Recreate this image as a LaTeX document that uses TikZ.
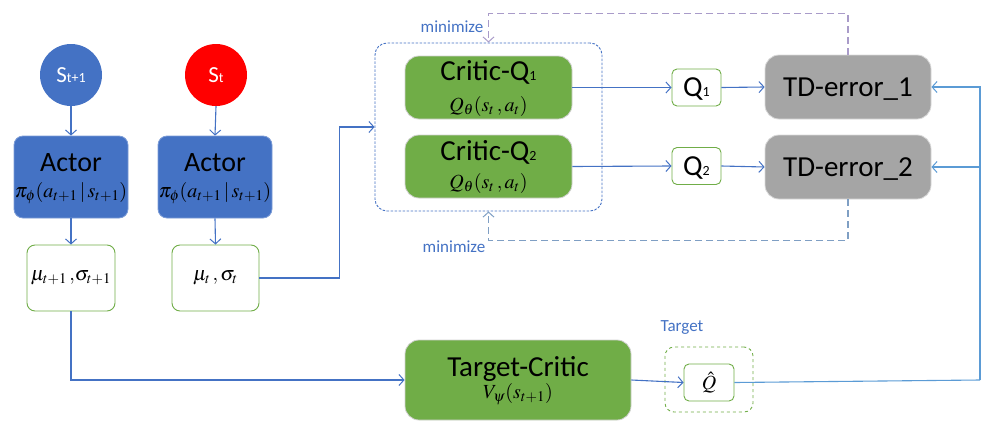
\documentclass[tikz,border=0pt]{standalone}
\usepackage{mathptmx}
\usepackage{fontspec}
\setmainfont{Carlito}
\usetikzlibrary{arrows.meta,calc}

\definecolor{cblue}{HTML}{4472C4}
\definecolor{lblue}{HTML}{5B9BD5}
\definecolor{cgreen}{HTML}{70AD47}
\definecolor{cgray}{HTML}{A5A5A5}
\definecolor{cred}{HTML}{FF0000}
\definecolor{dpurple}{HTML}{A99BC9}
\definecolor{dsteel}{HTML}{7F9FC4}

\newcommand{\bigtxt}{\fontsize{29}{32}\selectfont}
\newcommand{\acttxt}{\fontsize{28}{30}\selectfont}
\newcommand{\smtxt}{\fontsize{14}{16}\selectfont}
\newcommand{\mtxt}{\fontsize{20}{22}\selectfont}
\newcommand{\lbtxt}{\fontsize{17}{19}\selectfont}

\begin{document}
\begin{tikzpicture}[x=1pt,y=-1pt,
  statenode/.style={circle,minimum size=62pt,inner sep=0pt,text=white},
  actorbox/.style={rectangle,rounded corners=9pt,fill=cblue,draw=cblue!70!white,
    line width=0.8pt,minimum width=114pt,minimum height=82pt,inner sep=0pt},
  critbox/.style={rectangle,rounded corners=14pt,fill=cgreen,draw=black!18,
    line width=0.8pt,minimum width=167pt,minimum height=63pt,inner sep=0pt},
  tdbox/.style={rectangle,rounded corners=14pt,fill=cgray,draw=black!15,
    line width=0.8pt,minimum width=166pt,minimum height=64pt,inner sep=0pt,
    font=\bigtxt,text height=18.7pt,text depth=0pt},
  outbox/.style={rectangle,rounded corners=8pt,fill=white,draw=cgreen,
    line width=0.9pt,inner sep=0pt},
  title/.style={anchor=base,inner sep=0pt},
  formula/.style={inner sep=0pt,font=\mtxt},
  tip/.style={-{Straight Barb[length=5pt,width=11pt,line width=1pt]}},
  conn/.style={draw=cblue,line width=1.1pt,tip},
  lconn/.style={draw=lblue,line width=1.1pt},
  hint/.style={text=cblue,inner sep=0pt}
]
\useasboundingbox (0,0) rectangle (981,423);

% states and actors
\node[statenode,fill=cblue] (s1) at (71,75) {\fontsize{23}{25}\selectfont S\smtxt t+1};
\node[statenode,fill=cred] (s2) at (216,75) {\fontsize{23}{25}\selectfont S\smtxt t};

\node[actorbox] (a1) at (71,177) {};
\node[title,font=\acttxt] (a1t) at (71,171) {Actor};
\node[formula] (a1f) at (71,193) {$\pi_{\phi}(a_{t+1}\,|\,s_{t+1})$};
\node[actorbox] (a2) at (215,177) {};
\node[title,font=\acttxt] (a2t) at (215,171) {Actor};
\node[formula] (a2f) at (215,193) {$\pi_{\phi}(a_{t+1}\,|\,s_{t+1})$};

\node[outbox,minimum width=88pt,minimum height=66pt,font=\mtxt] (m1) at (71,278)
  {$\mu_{t+1}\,{,}\sigma_{t+1}$};
\node[outbox,minimum width=87pt,minimum height=66pt,font=\mtxt] (m2) at (215.5,278)
  {$\mu_{t}\,{,}\,\sigma_{t}$};

% critics
\node[draw=cblue,dash pattern=on 2.5pt off 1.5pt,line width=0.9pt,rounded corners=12pt,
  minimum width=227pt,minimum height=168pt,inner sep=0pt] (cb) at (488.5,127) {};
\node[critbox] (c1) at (488.5,87.5) {};
\node[title] (c1t) at (488.5,80) {\bigtxt Critic-Q\smtxt 1};
\node[formula] (c1f) at (488.5,106) {$Q_{\theta}(s_t\,,a_t)$};
\node[critbox] (c2) at (488.5,166.5) {};
\node[title] (c2t) at (488.5,160) {\bigtxt Critic-Q\smtxt 2};
\node[formula] (c2f) at (488.5,183) {$Q_{\theta}(s_t\,,a_t)$};

\node[outbox,rounded corners=5pt,minimum width=49pt,minimum height=37pt,
  text height=18.7pt,text depth=0pt] (q1) at (696.5,87.5) {\bigtxt Q\smtxt 1};
\node[outbox,rounded corners=5pt,minimum width=49pt,minimum height=37pt,
  text height=18.7pt,text depth=0pt] (q2) at (696.5,166) {\bigtxt Q\smtxt 2};

\node[tdbox] (t1) at (848,87) {TD-error\_1};
\node[tdbox] (t2) at (848,167) {TD-error\_2};

% target critic
\node[critbox,minimum width=226pt,minimum height=80pt] (tc) at (518,380) {};
\node[title,font=\bigtxt] (tct) at (518,376) {Target-Critic};
\node[formula] (tcf) at (518,394) {$V_{\psi}(s_{t+1})$};
\node[draw=cgreen,dashed,line width=0.9pt,rounded corners=9pt,
  minimum width=88pt,minimum height=65pt,inner sep=0pt] (qo) at (709,379.5) {};
\node[outbox,rounded corners=5pt,minimum width=50pt,minimum height=37pt,font=\mtxt]
  (qh) at (709,382.5) {$\hat{Q}$};

% labels
\node[hint,font=\lbtxt] (tl) at (682,328) {Target};
\node[hint,font=\lbtxt] (mz1) at (452,27) {minimize};
\node[hint,font=\lbtxt] (mz2) at (454,247) {minimize};

% connectors
\draw[conn] (s1.south) -- (a1.north);
\draw[conn] (s2.south) -- (a2.north);
\draw[conn] (a1.south) -- (m1.north);
\draw[conn] (a2.south) -- (m2.north);
\draw[conn] (m2.east) -- ++(80,0) |- (cb.west);
\draw[conn] (m1.south) |- (tc.west);
\draw[conn] (c1.east) -- (q1.west);
\draw[conn] (c2.east) -- (q2.west);
\draw[conn] (q1.east) -- (t1.west);
\draw[conn] (q2.east) -- (t2.west);
\draw[conn] (tc.east) -- (qh.west);

\coordinate (rx) at (980,380);
\draw[lconn] (qh.east) -- (rx);
\draw[lconn,tip] (rx) |- (t1.east);
\draw[lconn,tip] (rx |- t2.east) -- (t2.east);

\draw[draw=dpurple,line width=1.1pt,dash pattern=on 7pt off 4pt,tip]
  (t1.north) -- ++(0,-41) -| (cb.north);
\draw[draw=dsteel,line width=1.1pt,dash pattern=on 7pt off 4pt,tip]
  (t2.south) -- ++(0,41) -| (cb.south);
\end{tikzpicture}
\end{document}
